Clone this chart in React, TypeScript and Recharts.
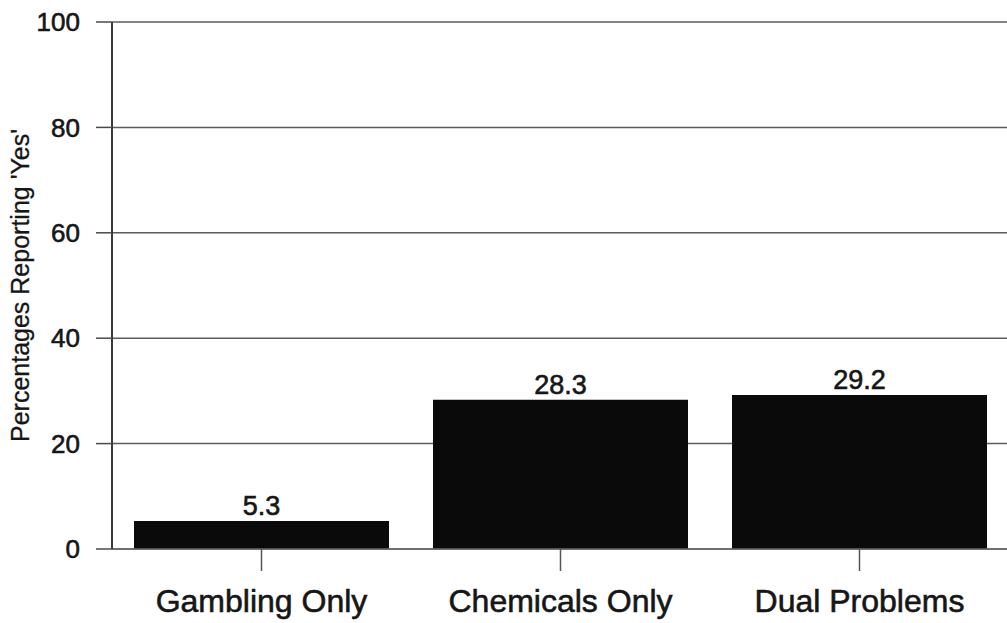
import { Bar, BarChart, CartesianGrid, LabelList, XAxis, YAxis } from "recharts";

const groups = ["Gambling Only", "Chemicals Only", "Dual Problems"];
const yesPct = [5.3, 28.3, 29.2];
const yTicks = [0, 20, 40, 60, 80, 100];

const data = groups.map((g, i) => ({ group: g, yes: yesPct[i] }));

const FONT = "'Liberation Sans', Arial, Helvetica, sans-serif";
const INK = "#161616";
// thin outline so the print-style type reads a little heavier
const heavy = { stroke: INK, strokeWidth: 0.6 };

export default function App() {
  return (
    <div
      style={{
        position: "absolute",
        left: 0,
        top: 0,
        width: 1007,
        height: 623,
        overflow: "hidden",
        background: "#fff",
        fontFamily: FONT,
      }}
    >
      <BarChart
        width={1010}
        height={623}
        data={data}
        margin={{ top: 22, right: 1, bottom: 0, left: 0 }}
        barCategoryGap={22}
      >
        <CartesianGrid
          vertical={false}
          stroke="#4a4a4a"
          strokeWidth={1.5}
          strokeOpacity={0.9}
        />
        <XAxis
          dataKey="group"
          height={74}
          tickSize={22}
          tickMargin={18}
          axisLine={{ stroke: "#6a6a6a", strokeWidth: 1.5 }}
          tickLine={{ stroke: "#555", strokeWidth: 1.5 }}
          tick={{ fill: INK, fontSize: 32, fontFamily: FONT, ...heavy }}
        />
        <YAxis
          width={112}
          domain={[0, 100]}
          ticks={yTicks}
          interval={0}
          tickSize={16}
          tickMargin={16}
          axisLine={{ stroke: "#3a3a3a", strokeWidth: 2 }}
          tickLine={{ stroke: "#4a4a4a", strokeWidth: 1.5 }}
          tick={{ fill: INK, fontSize: 26, fontFamily: FONT, ...heavy }}
          label={{
            value: "Percentages Reporting 'Yes'",
            angle: -90,
            position: "insideLeft",
            offset: 20,
            style: {
              fill: INK,
              fontSize: 25,
              fontFamily: FONT,
              textAnchor: "middle",
              stroke: INK,
              strokeWidth: 0.3,
            },
          }}
        />
        <Bar dataKey="yes" fill="#0a0a0a" isAnimationActive={false}>
          <LabelList
            dataKey="yes"
            position="top"
            offset={6}
            style={{ fill: INK, fontSize: 27, fontFamily: FONT, ...heavy }}
          />
        </Bar>
      </BarChart>
    </div>
  );
}
